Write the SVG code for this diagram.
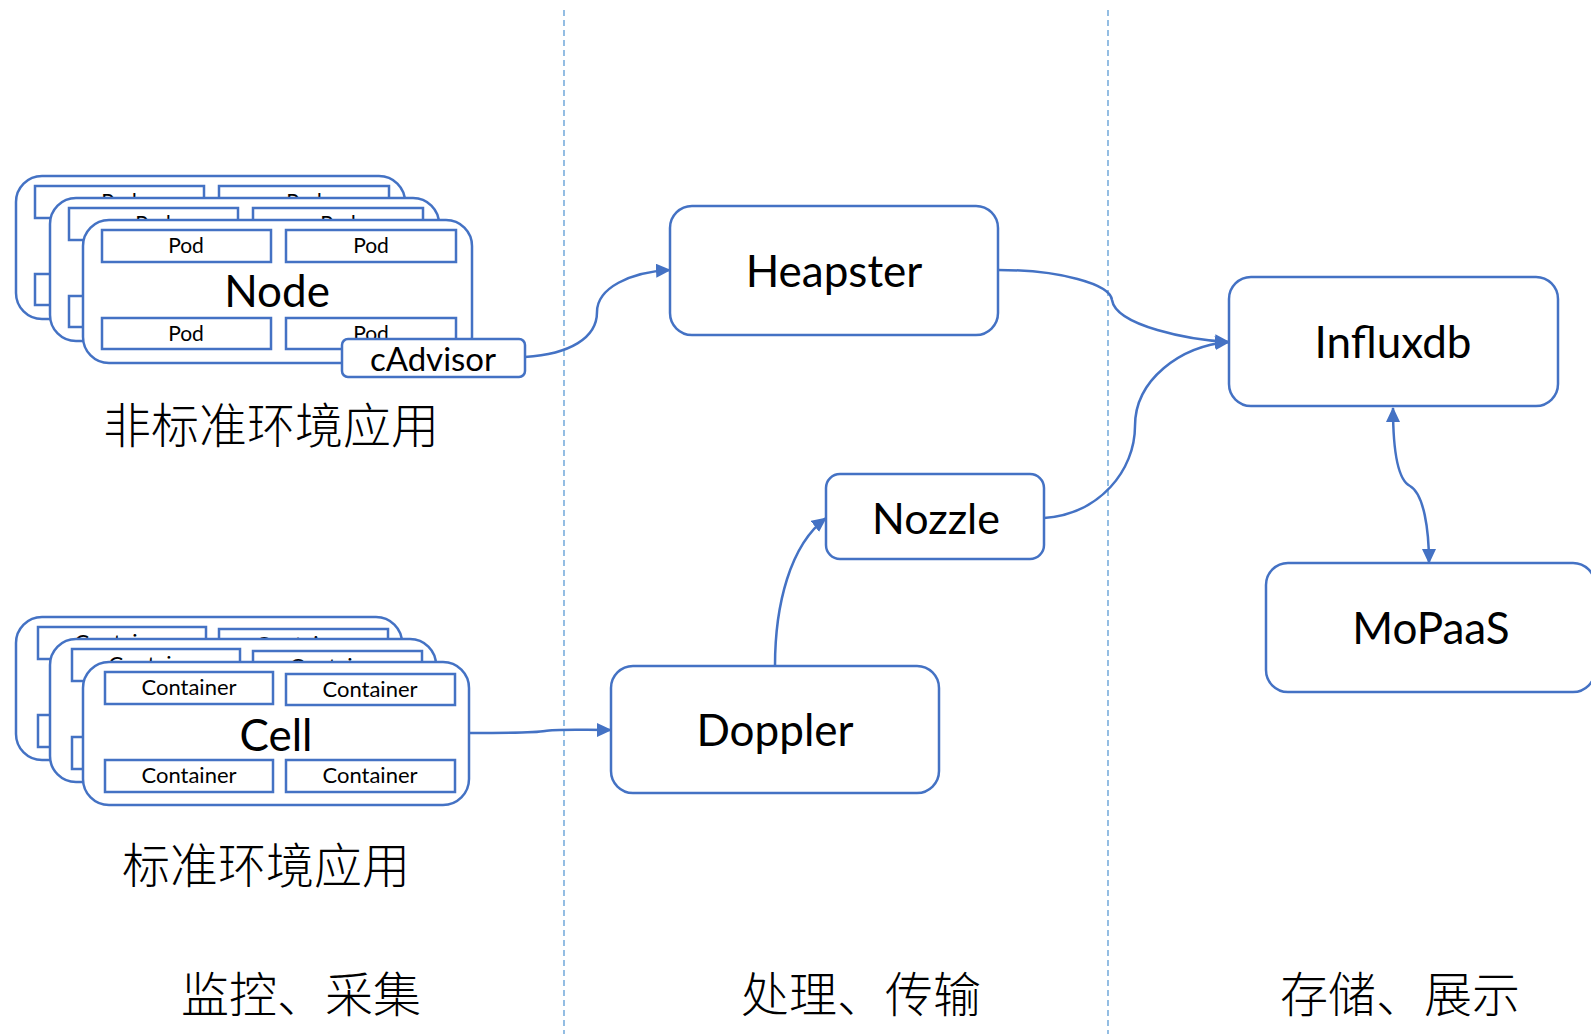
<svg xmlns="http://www.w3.org/2000/svg" xmlns:xlink="http://www.w3.org/1999/xlink" width="1591" height="1034" viewBox="0 0 1591 1034">
<style>
.box{fill:#fff;stroke:#4472C4;stroke-width:2.5}
.inner{fill:#fff;stroke:#4472C4;stroke-width:2.5}
.t{font-family:Lato,"Noto Sans",sans-serif;fill:#000;text-anchor:middle}
.cjk{font-family:"Noto Sans CJK SC",sans-serif;fill:#000;text-anchor:middle;font-weight:300}
.conn{fill:none;stroke:#4472C4;stroke-width:2.5}
.div{stroke:#5B9BD5;stroke-width:1.3;stroke-dasharray:6 4}
</style>
<defs>
<marker id="arr" viewBox="0 0 15 14" refX="14" refY="7" markerWidth="15" markerHeight="14" markerUnits="userSpaceOnUse" orient="auto">
<path d="M0,0 L15,7 L0,14 z" fill="#4472C4"/>
</marker>
<marker id="arrS" viewBox="0 0 15 14" refX="1" refY="7" markerWidth="15" markerHeight="14" markerUnits="userSpaceOnUse" orient="auto">
<path d="M15,0 L0,7 L15,14 z" fill="#4472C4"/>
</marker>
<g id="nodeLayer">
<rect class="box" x="0" y="0" width="389" height="143" rx="26"/>
<rect class="inner" x="19" y="10" width="169" height="32"/>
<rect class="inner" x="203" y="10" width="170" height="32"/>
<rect class="inner" x="19" y="98" width="169" height="31"/>
<rect class="inner" x="203" y="98" width="170" height="31"/>
<text class="t" x="103" y="33" font-size="21">Pod</text>
<text class="t" x="288" y="33" font-size="21">Pod</text>
<text class="t" x="103" y="121" font-size="21">Pod</text>
<text class="t" x="288" y="121" font-size="21">Pod</text>
<text class="t" x="194" y="87" font-size="44">Node</text>
</g>
<g id="cellLayer">
<rect class="box" x="0" y="0" width="386" height="143" rx="26"/>
<rect class="inner" x="22" y="10" width="168" height="32"/>
<rect class="inner" x="203" y="12" width="169" height="31"/>
<rect class="inner" x="22" y="98" width="168" height="32"/>
<rect class="inner" x="203" y="98" width="169" height="32"/>
<text class="t" x="106" y="33" font-size="22">Container</text>
<text class="t" x="287" y="35" font-size="22">Container</text>
<text class="t" x="106" y="121" font-size="22">Container</text>
<text class="t" x="287" y="121" font-size="22">Container</text>
<text class="t" x="193" y="89" font-size="44">Cell</text>
</g>
</defs>

<g id="dividers">
<line class="div" x1="564" y1="10" x2="564" y2="1034"/>
<line class="div" x1="1108" y1="10" x2="1108" y2="1034"/>
</g>

<g id="node-stack">
<use xlink:href="#nodeLayer" x="16" y="176"/>
<use xlink:href="#nodeLayer" x="50" y="198"/>
<use xlink:href="#nodeLayer" x="83" y="220"/>
</g>
<g id="cadvisor">
<rect class="box" x="342" y="339" width="183" height="38" rx="6"/>
<text class="t" x="433" y="371" font-size="33">cAdvisor</text>
</g>
<g id="label-nonstandard">
<text class="cjk" x="271" y="443" font-size="48">非标准环境应用</text>
</g>

<g id="cell-stack">
<use xlink:href="#cellLayer" x="16" y="617"/>
<use xlink:href="#cellLayer" x="50" y="639"/>
<use xlink:href="#cellLayer" x="83" y="662"/>
</g>
<g id="label-standard">
<text class="cjk" x="266" y="883" font-size="48">标准环境应用</text>
</g>

<g id="heapster">
<rect class="box" x="670" y="206" width="328" height="129" rx="22"/>
<text class="t" x="834" y="287" font-size="44">Heapster</text>
</g>
<g id="influxdb">
<rect class="box" x="1229" y="277" width="329" height="129" rx="22"/>
<text class="t" x="1393" y="358" font-size="44">Influxdb</text>
</g>
<g id="nozzle">
<rect class="box" x="826" y="474" width="218" height="85" rx="14"/>
<text class="t" x="936" y="534" font-size="43">Nozzle</text>
</g>
<g id="doppler">
<rect class="box" x="611" y="666" width="328" height="127" rx="22"/>
<text class="t" x="775" y="746" font-size="44">Doppler</text>
</g>
<g id="mopaas">
<rect class="box" x="1266" y="563" width="329" height="129" rx="22"/>
<text class="t" x="1431" y="644" font-size="44">MoPaaS</text>
</g>

<g id="connectors">
<path class="conn" marker-end="url(#arr)" d="M525,357 C570,354 597,338 597,312 C597,288 630,272 670,270"/>
<path class="conn" marker-end="url(#arr)" d="M998,270 C1060,270 1110,284 1112,300 C1116,326 1190,340 1229,342"/>
<path class="conn" marker-end="url(#arr)" d="M1044,518 C1100,514 1135,470 1135,426 C1135,380 1180,346 1229,342"/>
<path class="conn" marker-end="url(#arr)" d="M775,666 C775,605 790,545 826,518"/>
<path class="conn" marker-end="url(#arr)" d="M470,733 C515,733 535,733 545,731 C555,729 580,730 611,730"/>
<path class="conn" marker-start="url(#arrS)" marker-end="url(#arr)" d="M1393,408 C1393,450 1398,480 1410,486 C1424,494 1429,530 1429,563"/>
</g>

<g id="column-labels">
<text class="cjk" x="301" y="1012" font-size="48">监控、采集</text>
<text class="cjk" x="861" y="1012" font-size="48">处理、传输</text>
<text class="cjk" x="1400" y="1012" font-size="48">存储、展示</text>
</g>
</svg>
